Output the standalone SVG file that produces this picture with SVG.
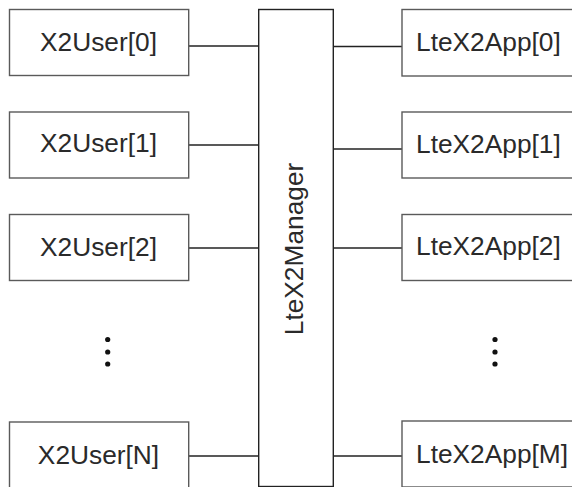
<svg xmlns="http://www.w3.org/2000/svg" width="572" height="487" viewBox="0 0 572 487">
  <style>
    .box { fill: #ffffff; stroke: #5a5a5a; stroke-width: 1.4; }
    .mgr { fill: #ffffff; stroke: #222222; stroke-width: 1.4; }
    .wire { stroke: #222222; stroke-width: 1.6; fill: none; }
    .lbl { font-family: "Liberation Sans", Arial, sans-serif; font-size: 26.3px; fill: #2a2a2a; }
    .mid { text-anchor: middle; }
    .dot { fill: #111111; }
  </style>
  <rect width="572" height="487" fill="#ffffff"/>

  <!-- connectors -->
  <g id="connectors">
    <line class="wire" x1="188.7" y1="46" x2="259" y2="46"/>
    <line class="wire" x1="188.7" y1="145" x2="259" y2="145"/>
    <line class="wire" x1="188.7" y1="248" x2="259" y2="248"/>
    <line class="wire" x1="188.7" y1="456" x2="259" y2="456"/>
    <line class="wire" x1="333" y1="46.5" x2="402" y2="46.5"/>
    <line class="wire" x1="333" y1="149" x2="402" y2="149"/>
    <line class="wire" x1="333" y1="248" x2="402" y2="248"/>
    <line class="wire" x1="333" y1="456" x2="402" y2="456"/>
  </g>

  <!-- central manager -->
  <g id="manager">
    <rect class="mgr" x="258.7" y="9.5" width="74.6" height="477"/>
    <text class="lbl mid" transform="translate(303 249) rotate(-90)">LteX2Manager</text>
  </g>

  <!-- users -->
  <g id="user0">
    <rect class="box" x="9.5" y="9.5" width="179.2" height="66"/>
    <text class="lbl mid" x="98.5" y="51">X2User[0]</text>
  </g>
  <g id="user1">
    <rect class="box" x="9.5" y="112" width="179.2" height="66"/>
    <text class="lbl mid" x="98.5" y="151.5">X2User[1]</text>
  </g>
  <g id="user2">
    <rect class="box" x="9.5" y="214.5" width="179.2" height="66"/>
    <text class="lbl mid" x="98.5" y="255.5">X2User[2]</text>
  </g>
  <g id="userDots">
    <circle class="dot" cx="107.7" cy="339.5" r="2.6"/>
    <circle class="dot" cx="107.7" cy="352" r="2.6"/>
    <circle class="dot" cx="107.7" cy="364" r="2.6"/>
  </g>
  <g id="userN">
    <rect class="box" x="9.5" y="422" width="179.2" height="66"/>
    <text class="lbl mid" x="98.5" y="463.5">X2User[N]</text>
  </g>

  <!-- apps -->
  <g id="app0">
    <rect class="box" x="402" y="9.5" width="180" height="66.5"/>
    <text class="lbl" x="416" y="51">LteX2App[0]</text>
  </g>
  <g id="app1">
    <rect class="box" x="402" y="112" width="180" height="66"/>
    <text class="lbl" x="416" y="152.5">LteX2App[1]</text>
  </g>
  <g id="app2">
    <rect class="box" x="402" y="214.5" width="180" height="66"/>
    <text class="lbl" x="416" y="255">LteX2App[2]</text>
  </g>
  <g id="appDots">
    <circle class="dot" cx="495" cy="339.5" r="2.6"/>
    <circle class="dot" cx="495" cy="352" r="2.6"/>
    <circle class="dot" cx="495" cy="364" r="2.6"/>
  </g>
  <g id="appM">
    <rect class="box" x="402" y="421" width="180" height="66"/>
    <text class="lbl" x="416" y="462.5">LteX2App[M]</text>
  </g>
</svg>
